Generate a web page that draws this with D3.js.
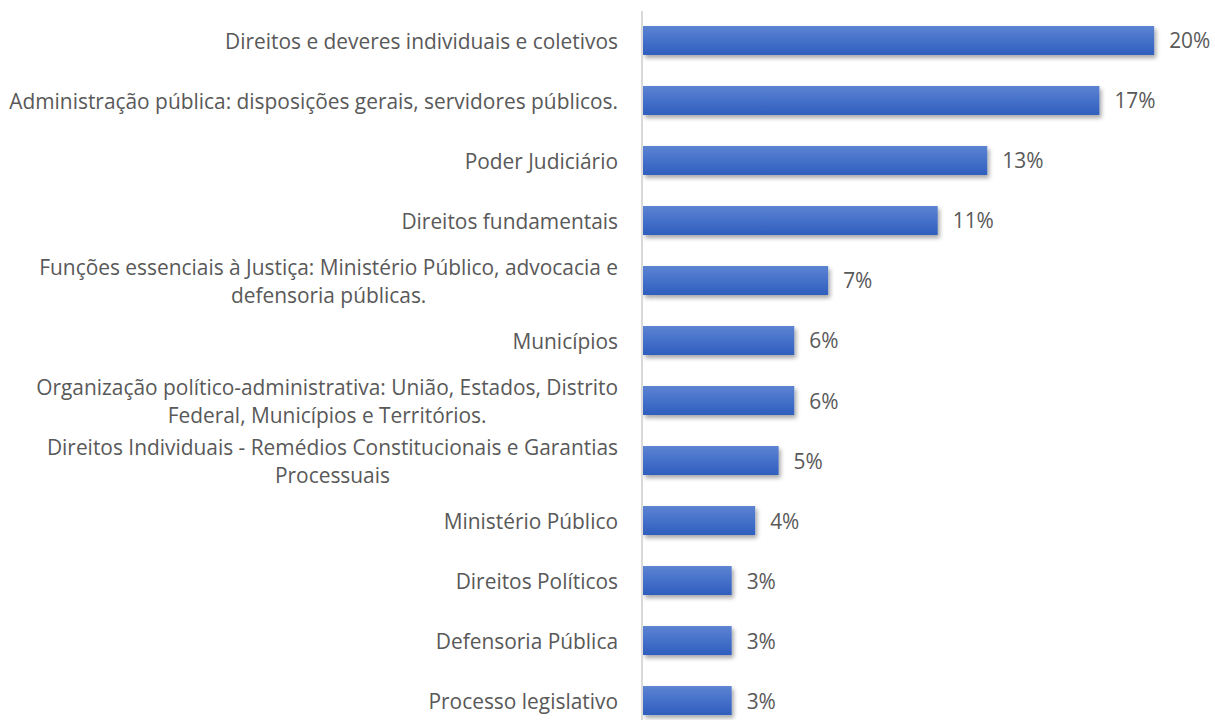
<!DOCTYPE html>
<html>
<head>
<meta charset="utf-8">
<script src="https://cdn.jsdelivr.net/npm/d3@7"></script>
<style>
  html, body { margin: 0; padding: 0; background: #ffffff; }
  svg { display: block; }
</style>
</head>
<body>
<svg id="chart" width="1215" height="720"></svg>
<script>
// Categories (line breaks as in the reference)
const categories = [
  "Direitos e deveres individuais e coletivos",
  "Administração pública: disposições gerais, servidores públicos.",
  "Poder Judiciário",
  "Direitos fundamentais",
  "Funções essenciais à Justiça: Ministério Público, advocacia e\ndefensoria públicas.",
  "Municípios",
  "Organização político-administrativa: União, Estados, Distrito\nFederal, Municípios e Territórios.",
  "Direitos Individuais - Remédios Constitucionais e Garantias\nProcessuais",
  "Ministério Público",
  "Direitos Políticos",
  "Defensoria Pública",
  "Processo legislativo"
];
// Shares (%)
const values = [19.6, 17.5, 13.2, 11.3, 7.1, 5.8, 5.8, 5.2, 4.3, 3.4, 3.4, 3.4];
// Data labels as shown
const valueLabels = ["20%", "17%", "13%", "11%", "7%", "6%", "6%", "5%", "4%", "3%", "3%", "3%"];

const data = categories.map((c, i) => ({ cat: c, v: values[i], lab: valueLabels[i] }));

const svg = d3.select("#chart");
const W = 1215, H = 720;
const axisX = 642;

const x = d3.scaleLinear().domain([0, 23]).range([axisX + 1, axisX + 1 + 23 * 26.08]);
const y = d3.scaleBand().domain(categories).range([10.5, 730.5]).paddingInner(0.517).paddingOuter(0.258);

const defs = svg.append("defs");
const grad = defs.append("linearGradient").attr("id", "barGrad")
  .attr("x1", 0).attr("y1", 0).attr("x2", 0).attr("y2", 1);
grad.append("stop").attr("offset", "0%").attr("stop-color", "#5d83d2");
grad.append("stop").attr("offset", "50%").attr("stop-color", "#4571ca");
grad.append("stop").attr("offset", "100%").attr("stop-color", "#2f5ebd");

const shadow = defs.append("filter").attr("id", "shadow")
  .attr("x", "-5%").attr("y", "-30%").attr("width", "115%").attr("height", "180%");
shadow.append("feDropShadow").attr("dx", 2).attr("dy", 3).attr("stdDeviation", 2)
  .attr("flood-color", "#000").attr("flood-opacity", 0.35);

// Bars
svg.append("g").selectAll("rect").data(data).join("rect")
  .attr("x", x(0))
  .attr("y", d => y(d.cat))
  .attr("width", d => x(d.v) - x(0))
  .attr("height", y.bandwidth())
  .attr("fill", "url(#barGrad)")
  .attr("filter", "url(#shadow)");

// Vertical axis line
svg.append("line")
  .attr("x1", axisX).attr("x2", axisX)
  .attr("y1", 11).attr("y2", H)
  .attr("stroke", "#d9d9d9").attr("stroke-width", 2);

const font = "'Open Sans', Lato, sans-serif";
const fontSize = 20.9;
const lineH = 28.5;

// Category labels
const labelRight = 618;
const lg = svg.append("g").attr("font-family", font).attr("font-size", fontSize).attr("fill", "#595959");
data.forEach(d => {
  const lines = d.cat.split("\n");
  const cy = y(d.cat) + y.bandwidth() / 2;
  const t = lg.append("text");
  const n = lines.length;
  const spans = lines.map((ln, i) => t.append("tspan")
    .attr("y", cy + (i - (n - 1) / 2) * lineH + 8.5)
    .text(ln));
  const widths = spans.map(s => s.node().getComputedTextLength());
  const maxW = Math.max(...widths);
  const centerX = labelRight - maxW / 2;
  spans.forEach(s => s.attr("x", centerX).attr("text-anchor", "middle"));
});

// Value labels
svg.append("g").selectAll("text").data(data).join("text")
  .attr("x", d => x(d.v) + 15)
  .attr("y", d => y(d.cat) + y.bandwidth() / 2 + 8)
  .attr("font-family", font).attr("font-size", fontSize).attr("fill", "#595959")
  .text(d => d.lab);
</script>
</body>
</html>
